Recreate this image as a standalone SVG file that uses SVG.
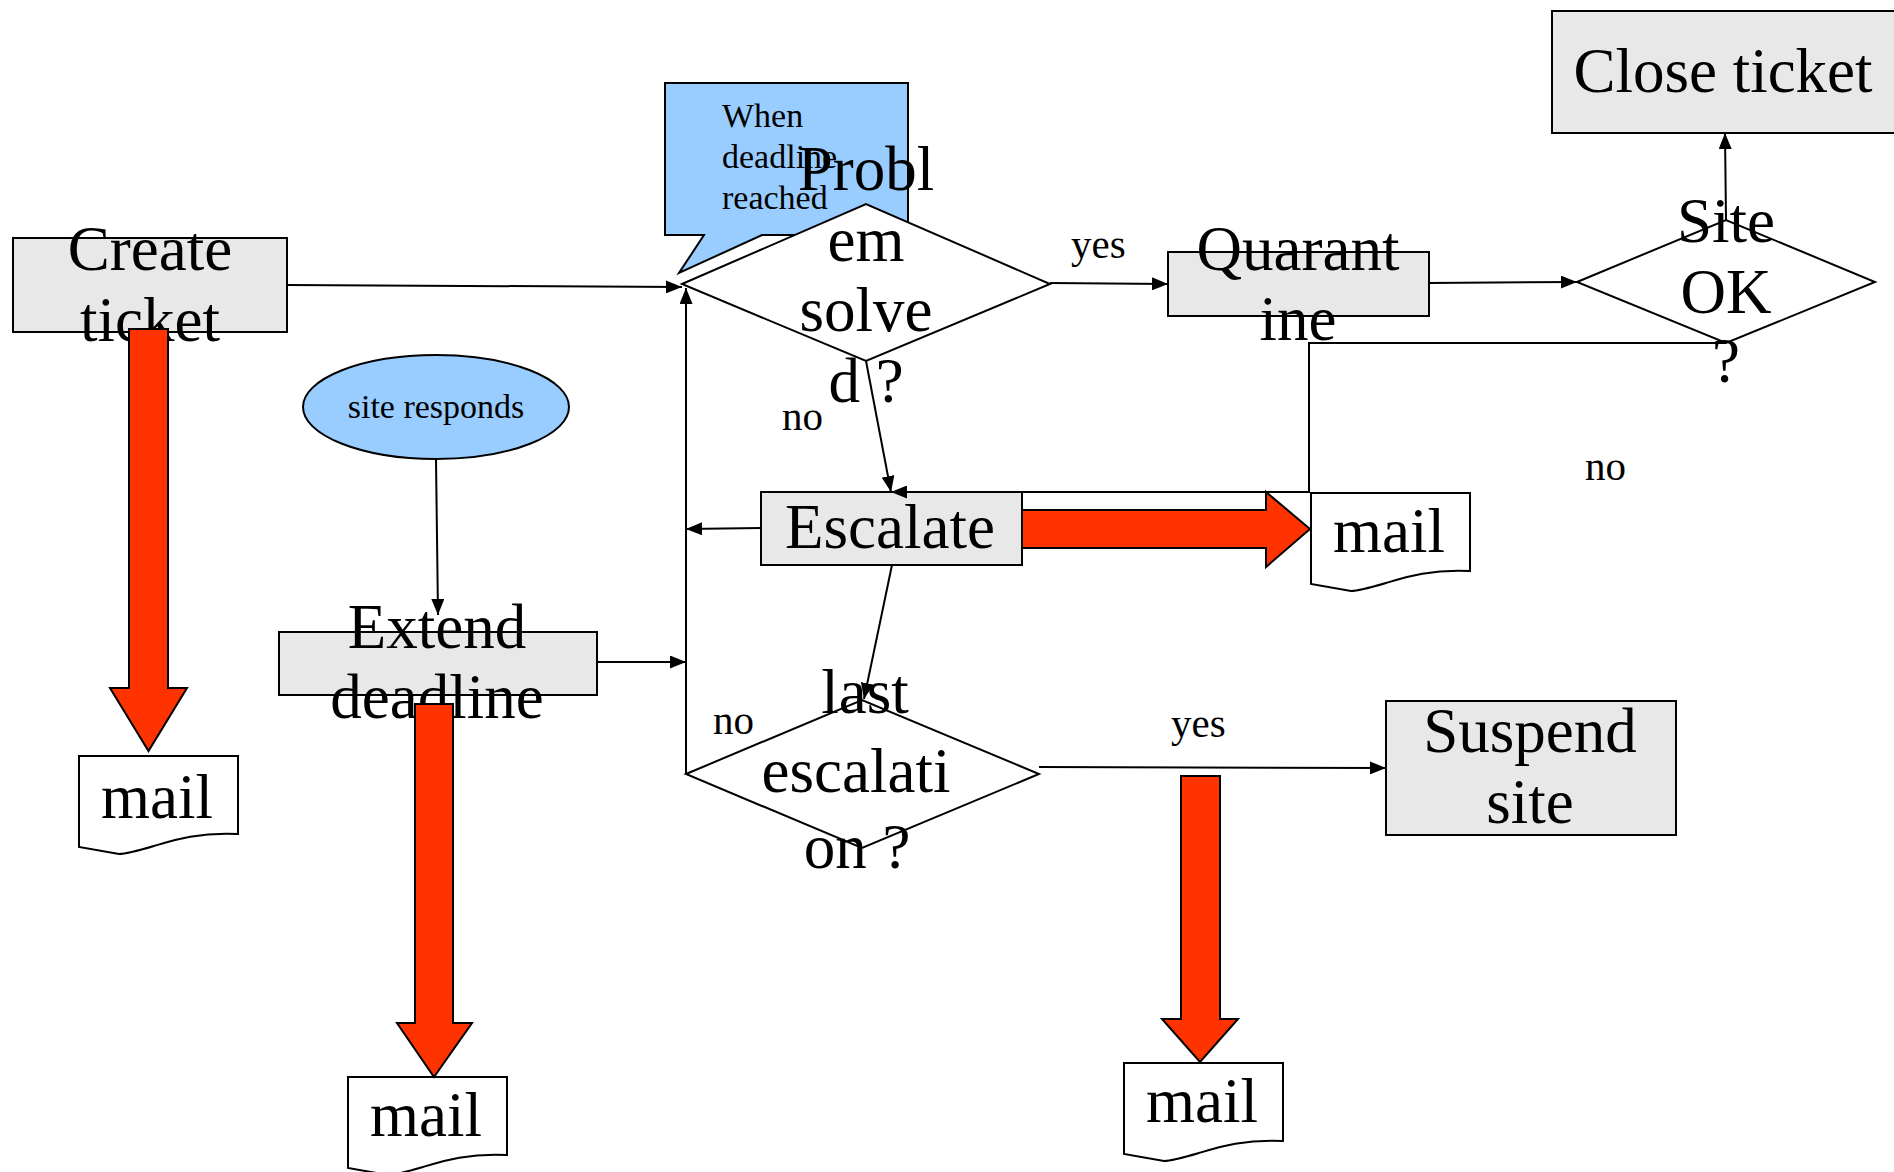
<svg xmlns="http://www.w3.org/2000/svg" width="1894" height="1172" viewBox="0 0 1894 1172">
<style>
.box{fill:#e8e8e8;stroke:#000;stroke-width:2}
.dia{fill:#fff;stroke:#000;stroke-width:2}
.note{fill:#99ccff;stroke:#000;stroke-width:2}
.doc{fill:#fff;stroke:#000;stroke-width:2}
.big{font-family:"Liberation Serif","Times New Roman",serif;font-size:63px;fill:#000;text-anchor:middle}
.sm{font-family:"Liberation Serif","Times New Roman",serif;font-size:34px;fill:#000}
.lbl{font-family:"Liberation Serif","Times New Roman",serif;font-size:41px;fill:#000}
.con{fill:none;stroke:#000;stroke-width:2;marker-end:url(#ah)}
.red{fill:#ff3300;stroke:#000;stroke-width:2;stroke-linejoin:miter}
</style>
<defs>
<marker id="ah" viewBox="0 0 16 13" refX="16" refY="6.5" markerWidth="16" markerHeight="13" markerUnits="userSpaceOnUse" orient="auto"><path d="M0,0 L16,6.5 L0,13 Z" fill="#000"/></marker>
<path id="docshape" d="M0,0 H159 V78 C120,76 95,84 75,90 C58,95 46,98 40,98 L0,91 Z"/>
</defs>
<rect width="1894" height="1172" fill="#fff"/>

<g id="callout">
<path class="note" d="M665,83 H908 V235 H762 L679,273 L704,235 H665 Z"/>
<text class="sm" x="722" y="127">When</text>
<text class="sm" x="722" y="168">deadline</text>
<text class="sm" x="722" y="209">reached</text>
</g>

<g id="create-ticket">
<rect class="box" x="13" y="238" width="274" height="94"/>
<text class="big" x="150" y="270">Create</text>
<text class="big" x="150" y="341">ticket</text>
</g>

<g id="site-responds">
<ellipse class="note" cx="436" cy="407" rx="133" ry="52"/>
<text class="sm" x="436" y="418" text-anchor="middle">site responds</text>
</g>

<g id="extend-deadline">
<rect class="box" x="279" y="632" width="318" height="63"/>
<text class="big" x="437" y="648">Extend</text>
<text class="big" x="437" y="718">deadline</text>
</g>

<g id="problem-solved">
<polygon class="dia" points="682,284 866,204 1050,284 866,361"/>
<text class="big" x="866" y="190">Probl</text>
<text class="big" x="866" y="261">em</text>
<text class="big" x="866" y="331">solve</text>
<text class="big" x="866" y="402">d ?</text>
</g>

<g id="quarantine">
<rect class="box" x="1168" y="252" width="261" height="64"/>
<text class="big" x="1298" y="270">Quarant</text>
<text class="big" x="1298" y="340">ine</text>
</g>

<g id="site-ok">
<polygon class="dia" points="1577,282 1726,220 1875,282 1726,343"/>
<text class="big" x="1726" y="242">Site</text>
<text class="big" x="1726" y="313">OK</text>
<text class="big" x="1726" y="382">?</text>
</g>

<g id="close-ticket">
<rect class="box" x="1552" y="11" width="360" height="122"/>
<text class="big" x="1723" y="92">Close ticket</text>
</g>

<g id="escalate">
<rect class="box" x="761" y="492" width="261" height="73"/>
<text class="big" x="890" y="548">Escalate</text>
</g>

<g id="last-escalation">
<polygon class="dia" points="686,774 862,700 1039,774 862,848"/>
<text class="big" x="865" y="713">last</text>
<text class="big" x="856" y="792">escalati</text>
<text class="big" x="857" y="868">on ?</text>
</g>

<g id="suspend-site">
<rect class="box" x="1386" y="701" width="290" height="134"/>
<text class="big" x="1530" y="752">Suspend</text>
<text class="big" x="1530" y="823">site</text>
</g>

<g id="mail-1">
<use href="#docshape" class="doc" x="79" y="756"/>
<text class="big" x="157" y="818">mail</text>
</g>
<g id="mail-2">
<use href="#docshape" class="doc" x="348" y="1077"/>
<text class="big" x="426" y="1136">mail</text>
</g>
<g id="mail-3">
<use href="#docshape" class="doc" x="1124" y="1063"/>
<text class="big" x="1202" y="1122">mail</text>
</g>
<g id="mail-4">
<use href="#docshape" class="doc" x="1311" y="493"/>
<text class="big" x="1389" y="552">mail</text>
</g>

<g id="connectors">
<path class="con" d="M287,285 L682,287"/>
<path class="con" d="M1050,283 L1168,284"/>
<path class="con" d="M1429,283 L1577,282"/>
<path class="con" d="M1726,220 L1725,133"/>
<path class="con" d="M1726,343 L1309,343 L1309,492 L891,492"/>
<path class="con" d="M866,361 L891,492"/>
<path class="con" d="M761,528 L686,529"/>
<path class="con" d="M892,565 L864,699"/>
<path class="con" d="M686,774 L686,288"/>
<path class="con" d="M597,662 L686,662"/>
<path class="con" d="M436,459 L438,615"/>
<path class="con" d="M1039,767 L1386,768"/>
<text class="lbl" x="1071" y="258">yes</text>
<text class="lbl" x="782" y="430">no</text>
<text class="lbl" x="1585" y="480">no</text>
<text class="lbl" x="713" y="734">no</text>
<text class="lbl" x="1171" y="737">yes</text>
</g>

<g id="mail-arrows">
<polygon class="red" points="129,329 168,329 168,688 187,688 148.5,751 110,688 129,688"/>
<polygon class="red" points="415,704 453,704 453,1023 472,1023 434,1077 397,1023 415,1023"/>
<polygon class="red" points="1181,776 1220,776 1220,1019 1238,1019 1200,1062 1162,1019 1181,1019"/>
<polygon class="red" points="1022,510 1266,510 1266,492 1310,529 1266,567 1266,548 1022,548"/>
</g>
</svg>
